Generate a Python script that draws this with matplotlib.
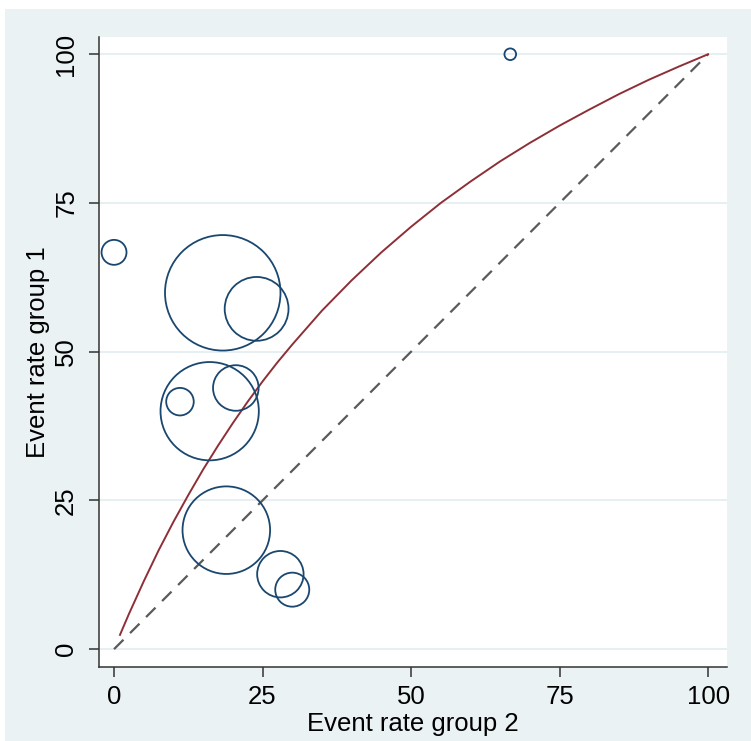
import numpy as np
import matplotlib.pyplot as plt
from matplotlib.patches import Rectangle

plt.rcParams['font.family'] = ['Liberation Sans', 'DejaVu Sans']

# study event rates (%) and weights
rate_group2 = [0, 18.3, 24.0, 16.1, 11.1, 20.5, 18.9, 28.0, 30.0, 66.7]
rate_group1 = [66.7, 59.9, 57.2, 40.0, 41.6, 43.9, 20.0, 12.6, 10.0, 100]
weights = [15.6, 334, 102, 242, 19, 52, 192, 54, 29, 3.4]

# pooled fit line
fit_x = [1, 2.5, 5, 7.5, 10, 12.5, 15, 17.5, 20, 22.5, 25, 27.5, 30, 35, 40, 45,
         50, 55, 60, 65, 70, 75, 80, 85, 90, 95, 100]
fit_y = [2.4, 5.9, 11.4, 16.6, 21.4, 25.9, 30.2, 34.2, 38.0, 41.6, 45.0, 48.2, 51.2,
         56.9, 62.0, 66.7, 71.0, 75.0, 78.6, 82.0, 85.1, 88.0, 90.7, 93.3, 95.7, 97.9, 100]

ticks = [0, 25, 50, 75, 100]

bg = '#EAF2F3'
navy = '#1A476F'
maroon = '#8E2F37'

fig = plt.figure(figsize=(7.51, 7.41), dpi=100, facecolor='white')
fig.patches.append(Rectangle((5/751, 0), 1, (741-9)/741, transform=fig.transFigure,
                             facecolor=bg, edgecolor='none', zorder=-10))

ax = fig.add_axes([99/751, (741-667)/741, (726.5-99)/751, (667-37)/741])
ax.set_facecolor('white')

for t in ticks:
    ax.axhline(t, color='#E4EEF1', lw=1.3, zorder=0)

ax.plot([0, 100], [0, 100], color='#5a5a5a', lw=1.6, dashes=(6.0, 4.2), zorder=2)
ax.plot(fit_x, fit_y, color=maroon, lw=1.4, zorder=3)
ax.scatter(rate_group2, rate_group1, s=np.array(weights) * 20.7, facecolors='none',
           edgecolors=navy, linewidths=1.3, zorder=4)

ax.set_xlim(-2.53, 103.1)
ax.set_ylim(-3.0, 102.9)
ax.set_xticks(ticks)
ax.set_yticks(ticks)
ax.set_xticklabels([str(t) for t in ticks], fontsize=18.5)
ax.set_yticklabels([str(t) for t in ticks], fontsize=18.5, rotation=90, va='center')

for s in ['top', 'right']:
    ax.spines[s].set_visible(False)
for s in ['left', 'bottom']:
    ax.spines[s].set_color('#333333')
    ax.spines[s].set_linewidth(1.1)
ax.tick_params(length=7, width=1.1, color='#333333', pad=6)
ax.tick_params(axis='y', pad=8)

ax.set_xlabel('Event rate group 2', fontsize=18.5, labelpad=2)
ax.set_ylabel('Event rate group 1', fontsize=18.5, labelpad=3)

fig.savefig('out.png', dpi=100, facecolor='white')
